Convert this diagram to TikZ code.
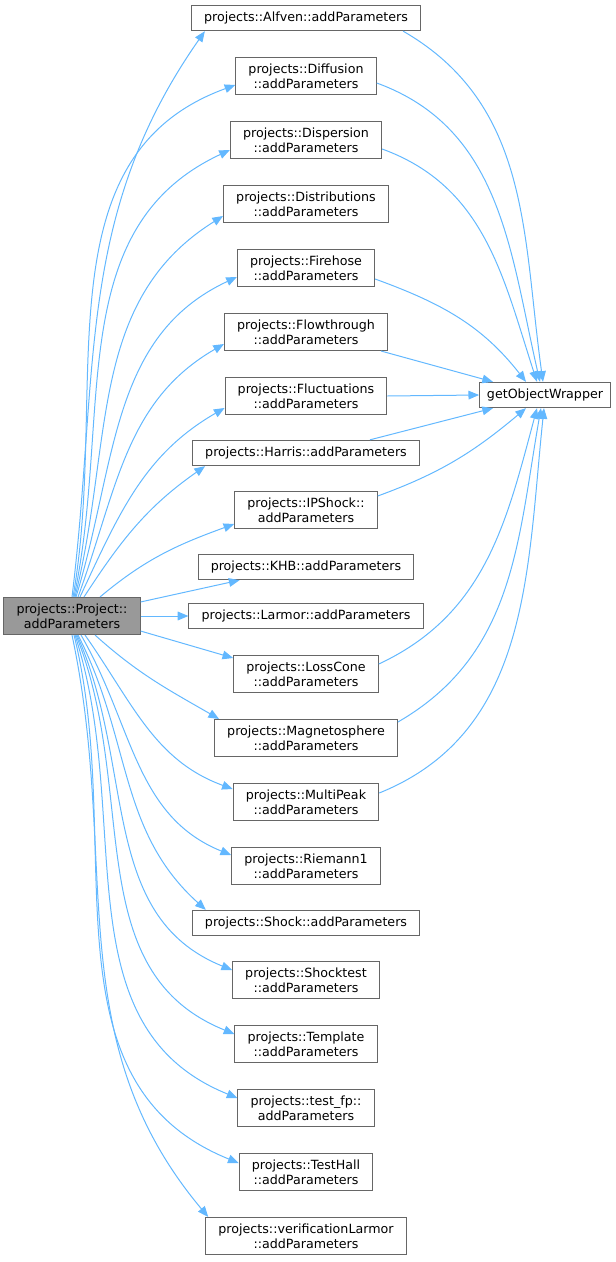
\documentclass[tikz,border=0pt]{standalone}
\usepackage{fontspec}
\setmainfont{DejaVu Sans}
\usetikzlibrary{arrows.meta,calc}

\definecolor{edgeblue}{HTML}{63B8FF}
\definecolor{boxgrey}{HTML}{666666}
\definecolor{callergrey}{HTML}{999999}

\begin{document}
\begin{tikzpicture}[x=0.75pt,y=-0.75pt,
    fn/.style={draw=boxgrey, fill=white, line width=0.75pt, align=center,
        font=\fontsize{9.5}{11.25}\selectfont, inner xsep=9.5pt, inner ysep=4.6pt,
        minimum height=19pt},
    caller/.style={fn, fill=callergrey},
    call/.style={draw=edgeblue, line width=0.75pt, -{Triangle[length=8pt,width=6.5pt]}}]
    \useasboundingbox (0,0) rectangle (616,1262);

    % Caller and wrapper
    \node[caller] (proj) at (72,616) {projects::Project::\\addParameters};
    \node[fn, inner xsep=5.5pt] (gow) at (545,395) {getObjectWrapper};

    % Callees
    \node[fn] (alfven) at (306,18) {projects::Alfven::addParameters};
    \node[fn] (diffusion) at (306,76) {projects::Diffusion\\::addParameters};
    \node[fn] (dispersion) at (306,140) {projects::Dispersion\\::addParameters};
    \node[fn] (distributions) at (306,204) {projects::Distributions\\::addParameters};
    \node[fn] (firehose) at (306,268) {projects::Firehose\\::addParameters};
    \node[fn] (flowthrough) at (306,332) {projects::Flowthrough\\::addParameters};
    \node[fn] (fluctuations) at (306,396) {projects::Fluctuations\\::addParameters};
    \node[fn] (harris) at (306,453) {projects::Harris::addParameters};
    \node[fn] (ipshock) at (306,510) {projects::IPShock::\\addParameters};
    \node[fn] (khb) at (306,567) {projects::KHB::addParameters};
    \node[fn] (larmor) at (306,616) {projects::Larmor::addParameters};
    \node[fn] (losscone) at (306,674) {projects::LossCone\\::addParameters};
    \node[fn] (magneto) at (306,738) {projects::Magnetosphere\\::addParameters};
    \node[fn] (multipeak) at (306,802) {projects::MultiPeak\\::addParameters};
    \node[fn] (riemann) at (306,866) {projects::Riemann1\\::addParameters};
    \node[fn] (shock) at (306,923) {projects::Shock::addParameters};
    \node[fn] (shocktest) at (306,980) {projects::Shocktest\\::addParameters};
    \node[fn] (template) at (306,1044) {projects::Template\\::addParameters};
    \node[fn] (testfp) at (306,1108) {projects::test\_fp::\\addParameters};
    \node[fn] (testhall) at (306,1172) {projects::TestHall\\::addParameters};
    \node[fn] (verlarmor) at (306,1236) {projects::verificationLarmor\\::addParameters};

    % Calls going up
    \draw[call] ($(proj.north)+(0,0)$) to[out=83,in=235] ($(alfven.south west)+(14,0)$);
    \draw[call] ($(proj.north)+(1,0)$) to[out=80,in=200] ($(diffusion.west)+(0,9)$);
    \draw[call] ($(proj.north)+(2,0)$) to[out=78,in=205] ($(dispersion.west)+(0,10)$);
    \draw[call] ($(proj.north)+(3,0)$) to[out=76,in=212] ($(distributions.west)+(0,12)$);
    \draw[call] ($(proj.north)+(4,0)$) to[out=73,in=205] ($(firehose.west)+(0,9)$);
    \draw[call] ($(proj.north)+(6,0)$) to[out=70,in=210] ($(flowthrough.west)+(0,12)$);
    \draw[call] ($(proj.north)+(8,0)$) to[out=65,in=210] ($(fluctuations.west)+(0,12)$);
    \draw[call] ($(proj.north)+(12,0)$) to[out=57,in=215] ($(harris.south west)+(13,0)$);
    \draw[call] ($(proj.north)+(28,0)$) to[out=40,in=200] ($(ipshock.west)+(0,14)$);
    \draw[call] ($(proj.north east)+(0,5)$) -- ($(khb.south west)+(42,0)$);

    % Calls going across and down
    \draw[call] (proj.east) -- (larmor.west);
    \draw[call] ($(proj.south east)+(0,-4)$) -- ($(losscone.west)+(0,-16)$);
    \draw[call] ($(proj.south)+(23,0)$) to[out=-42,in=150] ($(magneto.north west)+(5,0)$);
    \draw[call] ($(proj.south)+(13,0)$) to[out=-55,in=160] ($(multipeak.west)+(0,-13)$);
    \draw[call] ($(proj.south)+(9,0)$) to[out=-60,in=158] ($(riemann.west)+(0,-11)$);
    \draw[call] ($(proj.south)+(6,0)$) to[out=-63,in=138] ($(shock.north west)+(14,0)$);
    \draw[call] ($(proj.south)+(5,0)$) to[out=-66,in=158] ($(shocktest.west)+(0,-10)$);
    \draw[call] ($(proj.south)+(4,0)$) to[out=-68,in=158] ($(template.west)+(0,-10)$);
    \draw[call] ($(proj.south)+(3,0)$) to[out=-72,in=158] ($(testfp.west)+(0,-10)$);
    \draw[call] ($(proj.south)+(2,0)$) to[out=-76,in=158] ($(testhall.west)+(0,-9)$);
    \draw[call] ($(proj.south)+(0,0)$) to[out=-78,in=130] ($(verlarmor.north west)+(3,0)$);

    % Calls into getObjectWrapper
    \draw[call] ($(alfven.south east)+(-18,0)$) to[out=-30,in=98] ($(gow.north)+(-2,0)$);
    \draw[call] ($(diffusion.east)+(0,7)$) to[out=-20,in=103] ($(gow.north)+(-5,0)$);
    \draw[call] ($(dispersion.east)+(0,9)$) to[out=-20,in=108] ($(gow.north)+(-8,0)$);
    \draw[call] ($(firehose.east)+(0,11)$) to[out=-20,in=128] ($(gow.north)+(-19,0)$);
    \draw[call] ($(flowthrough.south east)+(-7,0)$) -- ($(gow.north)+(-52,0)$);
    \draw[call] (fluctuations.east) -- (gow.west);
    \draw[call] ($(harris.north east)+(-50,0)$) -- ($(gow.south)+(-52,0)$);
    \draw[call] ($(ipshock.east)+(0,-14)$) to[out=20,in=220] ($(gow.south)+(-19,0)$);
    \draw[call] ($(losscone.east)+(0,-10)$) to[out=25,in=255] ($(gow.south)+(-8,0)$);
    \draw[call] ($(magneto.east)+(0,-16)$) to[out=30,in=260] ($(gow.south)+(-4,0)$);
    \draw[call] ($(multipeak.east)+(0,-9)$) to[out=22,in=264] ($(gow.south)+(-1,0)$);
\end{tikzpicture}
\end{document}
